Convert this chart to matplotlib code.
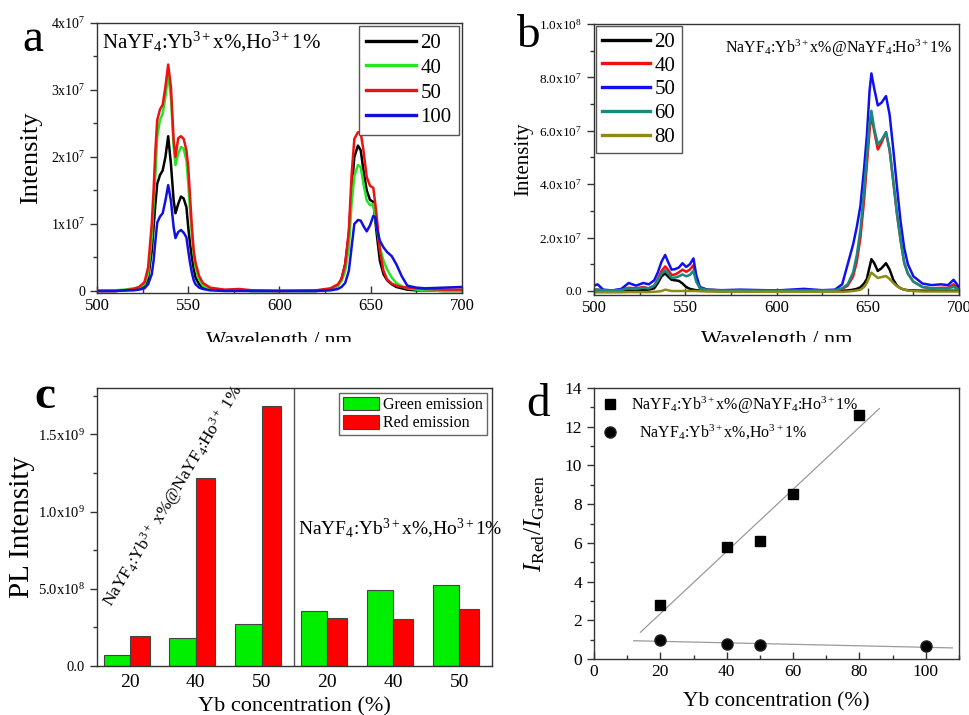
import numpy as np
import matplotlib
matplotlib.use("Agg")
import matplotlib.pyplot as plt
from matplotlib.patches import Rectangle
from matplotlib.ticker import MultipleLocator

plt.rcParams['font.family'] = ['Liberation Serif', 'DejaVu Serif']
plt.rcParams['mathtext.fontset'] = 'custom'
plt.rcParams['mathtext.rm'] = 'Liberation Serif'
plt.rcParams['mathtext.it'] = 'Liberation Serif:italic'
plt.rcParams['mathtext.bf'] = 'Liberation Serif:bold'

# ---------------- (a) NaYF4:Yb x%, Ho 1% emission spectra (units of 1e7) ----------------
wl_a = [500, 510, 515, 520, 523, 526, 528, 530, 531, 532, 533, 534.5, 536, 537.5, 539, 540.5,
        542, 543, 544.5, 546, 547.5, 549, 550, 551, 552, 553, 554, 556, 558, 562, 570, 578,
        585, 600, 620, 628, 632, 634, 636, 638, 639.5, 641, 643, 644.5, 646, 647.8, 649.6,
        651.4, 652.5, 653.5, 655, 657, 659, 661.5, 664, 667, 670, 675, 680, 690, 700]
a_20 = [0.0, 0.0, 0.01, 0.02, 0.04, 0.08, 0.18, 0.6, 0.95, 1.3, 1.6, 1.73, 1.80, 2.0, 2.31, 1.9,
        1.35, 1.16, 1.3, 1.41, 1.38, 1.25, 0.95, 0.7, 0.5, 0.33, 0.2, 0.1, 0.05, 0.02, 0.01, 0.01,
        0.0, 0.0, 0.0, 0.03, 0.08, 0.18, 0.4, 0.85, 1.5, 2.0, 2.17, 2.1, 1.8, 1.5, 1.36,
        1.33, 1.05, 0.8, 0.45, 0.25, 0.16, 0.1, 0.06, 0.04, 0.02, 0.01, 0.01, 0.0, 0.0]
a_40 = [0.0, 0.01, 0.02, 0.04, 0.05, 0.1, 0.25, 0.8, 1.3, 1.75, 2.3, 2.55, 2.65, 2.9, 3.23, 2.9,
        2.15, 1.88, 2.05, 2.15, 2.12, 1.95, 1.6, 1.2, 0.85, 0.55, 0.35, 0.17, 0.08, 0.03, 0.01, 0.02,
        0.0, 0.0, 0.0, 0.03, 0.08, 0.15, 0.3, 0.65, 1.3, 1.72, 1.88, 1.85, 1.6, 1.35, 1.28,
        1.3, 1.1, 0.92, 0.65, 0.45, 0.32, 0.2, 0.12, 0.07, 0.04, 0.02, 0.01, 0.0, 0.0]
a_50 = [0.0, 0.0, 0.01, 0.03, 0.06, 0.13, 0.35, 1.0, 1.5, 2.1, 2.55, 2.71, 2.78, 3.05, 3.38, 3.05,
        2.25, 2.0, 2.28, 2.31, 2.27, 2.1, 1.85, 1.4, 0.95, 0.6, 0.42, 0.22, 0.12, 0.05, 0.02, 0.03,
        0.01, 0.0, 0.01, 0.04, 0.1, 0.18, 0.4, 0.9, 1.73, 2.27, 2.37, 2.36, 2.1, 1.7, 1.57,
        1.54, 1.3, 1.05, 0.6, 0.3, 0.17, 0.11, 0.08, 0.06, 0.05, 0.04, 0.03, 0.02, 0.02]
a_100 = [0.0, 0.0, 0.01, 0.01, 0.02, 0.04, 0.1, 0.25, 0.45, 0.75, 1.02, 1.11, 1.16, 1.35, 1.58, 1.35,
         0.95, 0.79, 0.88, 0.91, 0.87, 0.8, 0.6, 0.42, 0.27, 0.16, 0.1, 0.05, 0.03, 0.01, 0.0, 0.0,
         0.0, 0.0, 0.0, 0.01, 0.03, 0.06, 0.12, 0.3, 0.65, 1.0, 1.06, 1.05, 0.97, 0.89, 0.98,
         1.12, 1.1, 0.92, 0.75, 0.65, 0.58, 0.52, 0.4, 0.22, 0.08, 0.05, 0.04, 0.05, 0.06]
a_labels = ['20', '40', '50', '100']
a_colors = ['#000000', '#22e622', '#ee1111', '#1111dd']

# ---------------- (b) NaYF4:Yb x% @ NaYF4:Ho 1% emission spectra (units of 1e7) ----------------
wl_b = [500, 502, 505, 510, 515, 519, 523, 527, 530, 533, 535, 537, 539, 540.5, 542.5, 544.5,
        546.5, 548.5, 550.5, 552.5, 554.5, 556, 558, 562, 570, 580, 600, 615, 625, 632, 636,
        639, 642, 644, 646, 648, 649.5, 651, 652, 653.5, 655.5, 657.5, 660, 662, 664, 666,
        668, 670, 672, 675, 680, 685, 690, 694, 697, 700]
b_20 = [0.0, 0.0, 0.0, 0.0, 0.0, 0.02, 0.02, 0.03, 0.05, 0.1, 0.3, 0.55, 0.66, 0.55, 0.42, 0.4,
        0.38, 0.28, 0.15, 0.08, 0.05, 0.03, 0.02, 0.01, 0.0, 0.0, 0.0, 0.0, 0.0, 0.0, 0.01,
        0.02, 0.05, 0.08, 0.14, 0.28, 0.45, 0.9, 1.19, 1.05, 0.75, 0.85, 1.04, 0.8, 0.42, 0.2,
        0.1, 0.05, 0.03, 0.02, 0.01, 0.01, 0.01, 0.01, 0.01, 0.01]
b_40 = [0.05, 0.05, 0.03, 0.02, 0.05, 0.12, 0.1, 0.15, 0.1, 0.2, 0.45, 0.75, 0.92, 0.8, 0.6, 0.62,
        0.7, 0.8, 0.72, 0.8, 0.97, 0.45, 0.12, 0.05, 0.02, 0.02, 0.01, 0.02, 0.02, 0.03, 0.08,
        0.2, 0.55, 1.1, 2.0, 3.4, 4.7, 6.0, 6.6, 6.0, 5.3, 5.55, 5.95, 5.25, 4.1, 2.9,
        1.9, 1.05, 0.65, 0.35, 0.15, 0.1, 0.12, 0.12, 0.25, 0.08]
b_50 = [0.2, 0.25, 0.05, 0.02, 0.08, 0.3, 0.2, 0.3, 0.25, 0.4, 0.7, 1.1, 1.35, 1.1, 0.8, 0.82,
        0.88, 1.04, 0.9, 1.0, 1.22, 0.6, 0.15, 0.05, 0.03, 0.05, 0.02, 0.08, 0.03, 0.05, 0.25,
        1.0, 1.75, 2.4, 3.2, 4.6, 5.8, 7.5, 8.15, 7.6, 6.95, 7.05, 7.3, 6.6, 5.3, 3.9,
        2.6, 1.6, 1.0, 0.55, 0.28, 0.22, 0.25, 0.22, 0.42, 0.15]
b_60 = [0.05, 0.05, 0.03, 0.02, 0.04, 0.1, 0.08, 0.12, 0.1, 0.2, 0.4, 0.65, 0.78, 0.65, 0.5, 0.5,
        0.55, 0.62, 0.55, 0.6, 0.75, 0.35, 0.1, 0.04, 0.02, 0.02, 0.01, 0.02, 0.02, 0.03, 0.1,
        0.25, 0.7, 1.35, 2.3, 3.8, 5.0, 6.3, 6.75, 6.1, 5.5, 5.65, 5.95, 5.3, 4.1, 2.9,
        1.9, 1.05, 0.65, 0.35, 0.15, 0.1, 0.1, 0.1, 0.15, 0.06]
b_80 = [-0.05, -0.05, -0.05, -0.05, -0.05, -0.04, -0.04, -0.04, -0.04, -0.03, -0.02, 0.0, 0.05, 0.03, 0.0, 0.0,
        0.0, 0.0, 0.0, 0.0, 0.0, 0.0, -0.01, -0.02, -0.03, -0.03, -0.03, -0.03, -0.03, -0.03, -0.03,
        -0.02, 0.0, 0.02, 0.05, 0.15, 0.3, 0.55, 0.69, 0.6, 0.49, 0.52, 0.56, 0.45, 0.3, 0.18,
        0.1, 0.05, 0.02, 0.0, -0.02, -0.02, -0.02, -0.02, -0.02, -0.02]
b_labels = ['20', '40', '50', '60', '80']
b_colors = ['#000000', '#ee1111', '#1111ee', '#178a80', '#8c8c14']

# ---------------- (c) integrated green / red emission ----------------
c_ticklabels = ['20', '40', '50', '20', '40', '50']
c_green = [0.069e9, 0.184e9, 0.274e9, 0.359e9, 0.490e9, 0.527e9]
c_red = [0.197e9, 1.219e9, 1.684e9, 0.311e9, 0.305e9, 0.367e9]

# ---------------- (d) red/green ratio ----------------
d_cs_x = [20, 40, 50, 60, 80]
d_cs_y = [2.8, 5.8, 6.1, 8.5, 12.6]
d_co_x = [20, 40, 50, 100]
d_co_y = [1.0, 0.8, 0.7, 0.65]

lbl_codoped = 'NaYF$_4$:Yb$^{3+}$x%,Ho$^{3+}$1%'
lbl_coreshell = 'NaYF$_4$:Yb$^{3+}$x%@NaYF$_4$:Ho$^{3+}$1%'

fig = plt.figure(figsize=(9.7, 7.15), dpi=100)
W, H = 970.0, 715.0


def add_axes_px(left, top, right, bottom):
    return fig.add_axes([left / W, 1 - bottom / H, (right - left) / W, (bottom - top) / H])


def style_axes(ax):
    for s in ax.spines.values():
        s.set_color('#333333')
        s.set_linewidth(1.0)
    ax.tick_params(axis='x', which='both', direction='in', top=False, colors='#333333',
                   labelcolor='black')
    ax.tick_params(axis='y', which='both', direction='out', right=False, colors='#333333',
                   labelcolor='black')
    ax.tick_params(which='major', length=5, width=1.0)
    ax.tick_params(which='minor', length=3, width=1.0)


# ---- panel a ----
axa = add_axes_px(97, 23, 462, 293)
for y, lab, col in zip([a_20, a_40, a_50, a_100], a_labels, a_colors):
    axa.plot(wl_a, np.array(y) * 1e7, color=col, lw=1.8, label=lab)
axa.set_xlim(500, 700)
axa.set_ylim(-0.03e7, 4e7)
style_axes(axa)
axa.set_xticks([500, 550, 600, 650, 700])
axa.xaxis.set_minor_locator(MultipleLocator(25))
axa.set_yticks([0, 1e7, 2e7, 3e7, 4e7],
               ['0', '1x10$^7$', '2x10$^7$', '3x10$^7$', '4x10$^7$'])
axa.yaxis.set_minor_locator(MultipleLocator(0.5e7))
axa.tick_params(axis='x', labelsize=12)
axa.tick_params(axis='y', labelsize=10)
axa.set_ylabel('Intensity', fontsize=19, labelpad=6)
axa.set_xlabel('Wavelength / nm', fontsize=15.5, labelpad=13)
leg = axa.legend(loc='upper right', fontsize=15, handlelength=2.4, handletextpad=0.2,
                 labelspacing=0.25, borderaxespad=0.15, borderpad=0.35, fancybox=False,
                 framealpha=1, edgecolor='#555555')
for h in leg.get_lines():
    h.set_linewidth(2.4)
axa.text(0.014, 0.93, lbl_codoped, transform=axa.transAxes, fontsize=15, va='center', ha='left')

# ---- panel b ----
axb = add_axes_px(594, 24, 959, 295)
for y, lab, col in zip([b_20, b_40, b_50, b_60, b_80], b_labels, b_colors):
    axb.plot(wl_b, np.array(y) * 1e7, color=col, lw=1.8, label=lab)
axb.set_xlim(500, 700)
axb.set_ylim(-0.15e7, 1.0e8)
style_axes(axb)
axb.set_xticks([500, 550, 600, 650, 700])
axb.xaxis.set_minor_locator(MultipleLocator(25))
axb.set_yticks([0, 2e7, 4e7, 6e7, 8e7, 1e8],
               ['0.0', '2.0x10$^7$', '4.0x10$^7$', '6.0x10$^7$', '8.0x10$^7$', '1.0x10$^8$'])
axb.yaxis.set_minor_locator(MultipleLocator(1e7))
axb.tick_params(axis='x', labelsize=12)
axb.tick_params(axis='y', labelsize=9.5)
axb.set_ylabel('Intensity', fontsize=15, labelpad=4)
axb.set_xlabel('Wavelength / nm', fontsize=16, labelpad=11)
leg = axb.legend(loc='upper left', fontsize=15, handlelength=2.3, handletextpad=0.2,
                 labelspacing=0.2, borderaxespad=0.1, borderpad=0.3, fancybox=False,
                 framealpha=1, edgecolor='#555555')
for h in leg.get_lines():
    h.set_linewidth(2.4)
axb.text(0.36, 0.91, lbl_coreshell, transform=axb.transAxes, fontsize=11.5, va='center', ha='left')

# ---- panel c ----
axc = add_axes_px(97, 388, 492, 666)
xc = np.arange(len(c_ticklabels))
axc.bar(xc - 0.2, c_green, width=0.4, color='#00ee00', edgecolor='#444444', lw=0.8,
        label='Green emission')
axc.bar(xc + 0.15, c_red, width=0.3, color='#ff0000', edgecolor='#444444', lw=0.8,
        label='Red emission')
axc.axvline(2.5, color='#555555', lw=1.0)
axc.set_xlim(-0.5, 5.5)
axc.set_ylim(0, 1.8e9)
style_axes(axc)
axc.set_xticks(xc, c_ticklabels)
axc.tick_params(axis='x', length=0, labelsize=14, pad=6)
axc.set_yticks([0, 0.5e9, 1.0e9, 1.5e9], ['0.0', '5.0x10$^8$', '1.0x10$^9$', '1.5x10$^9$'])
axc.yaxis.set_minor_locator(MultipleLocator(0.25e9))
axc.tick_params(axis='y', labelsize=10.5)
axc.set_ylabel('PL Intensity', fontsize=21, labelpad=2)
axc.set_xlabel('Yb concentration (%)', fontsize=16, labelpad=4)
axc.legend(loc='upper right', fontsize=11.5, handlelength=2.2, handleheight=0.9,
           handletextpad=0.3, labelspacing=0.15, borderaxespad=0.3, borderpad=0.25,
           fancybox=False, framealpha=1, edgecolor='#666666')
axc.text(0.66, 1.1e9, lbl_coreshell.replace('x%', ' x%').replace('1%', ' 1%'),
         fontsize=12.5, rotation=59, rotation_mode='anchor', ha='center', va='center')
axc.text(2.55, 0.89e9, lbl_codoped, fontsize=14, ha='left', va='center')

# ---- panel d ----
axd = add_axes_px(594, 388, 959, 659)
axd.plot(d_cs_x, d_cs_y, 's', color='black', ms=7.5, label=lbl_coreshell, zorder=3)
axd.plot(d_co_x, d_co_y, 'o', color='black', mec='#222222', ms=8, label='  ' + lbl_codoped,
         zorder=3)
k1, b1 = np.polyfit(d_cs_x, d_cs_y, 1)
k2, b2 = np.polyfit(d_co_x, d_co_y, 1)
xf1 = np.array([14, 86])
xf2 = np.array([12, 108])
axd.plot(xf1, k1 * xf1 + b1, color='#9a9a9a', lw=0.9, zorder=2)
axd.plot(xf2, k2 * xf2 + b2, color='#9a9a9a', lw=0.9, zorder=2)
axd.set_xlim(0, 110)
axd.set_ylim(0, 14)
style_axes(axd)
axd.set_xticks([0, 20, 40, 60, 80, 100])
axd.xaxis.set_minor_locator(MultipleLocator(10))
axd.set_yticks(np.arange(0, 15, 2))
axd.yaxis.set_minor_locator(MultipleLocator(1))
axd.tick_params(axis='x', labelsize=12.5)
axd.tick_params(axis='y', labelsize=12.5)
axd.set_ylabel('$I_{\\rm Red}/I_{\\rm Green}$', fontsize=18, labelpad=13)
axd.set_xlabel('Yb concentration (%)', fontsize=15.5, labelpad=9)
axd.legend(loc='upper left', fontsize=11.5, frameon=False, handlelength=1.2,
           handletextpad=0.7, labelspacing=0.45, borderaxespad=0.1, borderpad=0.3)

# panel letters
fig.text(33 / W, 1 - 40 / H, 'a', fontsize=34, ha='center', va='center')
fig.text(528 / W, 1 - 36 / H, 'b', fontsize=34, ha='center', va='center')
fig.text(45 / W, 1 - 397 / H, 'c', fontsize=34, ha='center', va='center', fontweight='bold')
fig.text(538 / W, 1 - 405 / H, 'd', fontsize=34, ha='center', va='center')

# trim the strip between the upper and lower rows
fig.patches.append(Rectangle((0, 1 - 362 / H), 1, 20 / H, transform=fig.transFigure,
                             facecolor='white', edgecolor='none', zorder=10))

fig.savefig('out.png', dpi=100, facecolor='white')
